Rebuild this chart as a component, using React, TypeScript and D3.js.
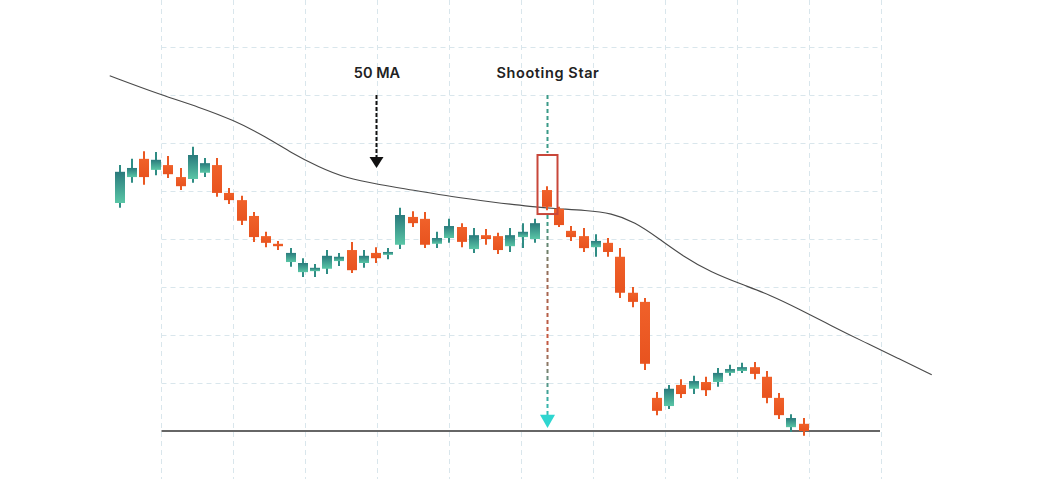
import React from "react";
import * as d3 from "d3";

// ---- data ----
const opens = [147.5,152.9,156.7,154.4,155.4,152.9,152.5,153.8,155.4,149.6,148.1,144.8,140.6,139.0,135.2,133.1,133.3,133.8,135.4,137.7,135.0,137.1,136.7,138.8,144.6,144.2,139.0,140.2,142.5,137.9,140.8,140.6,138.5,140.4,140.0,150.2,146.3,141.7,140.6,138.3,139.2,136.3,128.8,126.9,106.9,105.2,109.6,108.8,110.2,110.2,112.1,112.5,113.3,111.3,106.9,100.8,101.5];
const highs = [155.4,156.7,158.3,158.1,157.3,154.8,159.2,156.9,156.9,150.6,149.0,145.6,141.5,139.6,138.1,136.0,134.8,137.7,137.1,139.4,137.7,138.3,138.1,146.5,145.8,145.6,141.5,144.2,143.3,142.3,142.1,141.3,142.3,143.3,144.2,151.0,146.7,142.7,142.3,141.0,140.2,138.1,130.0,127.7,108.1,109.6,110.8,111.5,111.3,113.1,113.8,114.2,114.4,112.5,107.9,103.5,102.7];
const lows = [146.5,151.7,151.3,153.3,152.7,150.2,151.7,152.9,148.8,147.3,142.9,139.4,138.3,137.7,134.2,132.1,132.1,132.7,134.4,132.9,134.0,135.0,135.8,137.9,142.5,138.1,138.1,139.2,138.3,137.1,138.8,136.9,137.3,138.1,139.2,146.0,142.5,139.6,137.3,136.3,136.3,127.7,125.8,112.7,103.3,104.6,106.9,107.7,107.3,109.2,111.5,112.1,110.8,105.8,102.5,99.8,99.0];
const closes = [154.0,154.8,152.9,156.5,153.5,151.0,157.5,155.8,149.6,148.1,143.8,140.4,139.2,138.5,137.1,135.0,134.0,136.5,136.3,133.5,136.5,136.0,137.3,145.0,143.3,138.8,140.2,142.7,139.4,140.8,140.0,137.7,140.8,141.5,143.3,146.7,142.9,140.4,138.1,139.6,137.3,128.8,126.9,114.0,104.2,108.8,107.7,110.4,108.5,112.1,112.9,113.3,111.9,106.9,103.3,102.7,100.0];

// 50-period moving average (position in candle index units, value)
const maIndex = [-0.8,3.4,6.5,9.3,12,14.1,16.3,18.5,21.3,24,27.2,30.5,33.8,35.9,38.1,40.3,42.2,44.1,46.2,48.4,51.1,53.3,55.5,58.3,61,63.7,66.5];
const maValue = [174.0,170.0,167.5,164.8,161.3,157.9,155.0,152.7,151.3,150.2,148.8,147.7,146.7,146.3,146.0,145.4,143.5,140.2,136.3,133.1,130.4,128.3,125.6,121.9,118.5,115.2,111.7];

const gridPrices = [110,120,130,140,150,160,170,180];
const gridCols = d3.range(0, 11);
const supportLevel = 100;

const maLabel = "50 MA";
const maArrowIndex = 21;
const maArrowFrom = 170;
const maArrowTo = 154.8;
const starLabel = "Shooting Star";
const starIndex = 35;
const starBoxTop = 157.5;
const starBoxBottom = 145.2;
const labelPrice = 173.5;

export default function App() {
  const W = 1042, H = 479;
  const x = d3.scaleLinear().domain([0, 56]).range([119.5, 803.5]);
  const y = d3.scaleLinear().domain([100, 170]).range([431, 95]);
  const gx = d3.scaleLinear().domain([0, 10]).range([161.5, 881.5]);
  const bw = 10;

  const maLine = d3
    .line<number>()
    .x((_, i) => x(maIndex[i]))
    .y((d) => y(d))
    .curve(d3.curveBasis)(maValue) as string;

  const sx = Math.round(x(starIndex)) + 0.5;
  const ax = Math.round(x(maArrowIndex)) + 0.5;
  const font = "Inter, 'Noto Sans', sans-serif";

  return (
    <svg width={W} height={H} style={{ position: "absolute", left: 0, top: 0, background: "#fff" }}>
      <defs>
        <linearGradient id="bull" x1="0" y1="0" x2="0" y2="1">
          <stop offset="0" stopColor="#2a7a7c" />
          <stop offset="1" stopColor="#5ac6a6" />
        </linearGradient>
        <linearGradient id="bear" x1="0" y1="0" x2="0" y2="1">
          <stop offset="0" stopColor="#f0612a" />
          <stop offset="1" stopColor="#e8531f" />
        </linearGradient>
        <linearGradient id="drop" gradientUnits="userSpaceOnUse" x1="0" y1={y(starBoxBottom)} x2="0" y2={y(101)}>
          <stop offset="0" stopColor="#2fa08c" />
          <stop offset="0.3" stopColor="#9c6a55" />
          <stop offset="0.6" stopColor="#c8563e" />
          <stop offset="0.85" stopColor="#3aa59a" />
          <stop offset="1" stopColor="#2fd0cc" />
        </linearGradient>
      </defs>

      {/* grid */}
      <g stroke="#d9e6ec" strokeWidth={1} strokeDasharray="5,4">
        {gridCols.map((c) => (
          <line key={"v" + c} x1={gx(c)} x2={gx(c)} y1={0} y2={H} />
        ))}
        {gridPrices.map((p) => (
          <line key={"h" + p} x1={gx(0)} x2={gx(10)} y1={Math.round(y(p)) + 0.5} y2={Math.round(y(p)) + 0.5} />
        ))}
      </g>

      {/* support line */}
      <line x1={gx(0)} x2={gx(10) - 1.5} y1={y(supportLevel)} y2={y(supportLevel)} stroke="#333" strokeWidth={1.5} />

      {/* moving average */}
      <path d={maLine} fill="none" stroke="#4a4a4a" strokeWidth={1.1} />

      {/* shooting star dashed lines */}
      <line x1={sx} x2={sx} y1={y(maArrowFrom)} y2={y(starBoxTop) - 2} stroke="#3a9a88" strokeWidth={2} strokeDasharray="4,3" />
      <line x1={sx} x2={sx} y1={y(starBoxBottom) + 1} y2={y(101.5)} stroke="url(#drop)" strokeWidth={2} strokeDasharray="4,3" />
      <path
        d={`M${sx - 7.5},${y(103.4)} L${sx + 7.5},${y(103.4)} L${sx},${y(100.6)} Z`}
        fill="#2fd6d0"
      />

      {/* candles */}
      {opens.map((o, i) => {
        const c = closes[i];
        const bull = c >= o;
        const cx = Math.round(x(i));
        const top = y(Math.max(o, c));
        const bot = y(Math.min(o, c));
        const col = bull ? "#2f8c84" : "#ea5822";
        return (
          <g key={i}>
            <line x1={cx} x2={cx} y1={y(highs[i])} y2={y(lows[i])} stroke={col} strokeWidth={2} />
            <rect x={cx - bw / 2} y={top} width={bw} height={Math.max(2, bot - top)} fill={bull ? "url(#bull)" : "url(#bear)"} />
          </g>
        );
      })}

      {/* shooting star box */}
      <rect
        x={x(starIndex) - 9.5}
        y={y(starBoxTop)}
        width={20}
        height={y(starBoxBottom) - y(starBoxTop)}
        fill="none"
        stroke="#c8473a"
        strokeWidth={2}
      />

      {/* 50 MA arrow */}
      <line x1={ax} x2={ax} y1={y(maArrowFrom)} y2={y(maArrowTo) - 10} stroke="#111" strokeWidth={2} strokeDasharray="4,2" />
      <path
        d={`M${ax - 7},${y(maArrowTo) - 11} L${ax + 7},${y(maArrowTo) - 11} L${ax},${y(maArrowTo)} Z`}
        fill="#111"
      />

      {/* labels */}
      <text x={x(maArrowIndex) + 1} y={y(labelPrice)} textAnchor="middle" fontFamily={font} fontWeight={600} fontSize={14.5} fill="#222">
        {maLabel}
      </text>
      <text x={x(starIndex) + 1} y={y(labelPrice)} textAnchor="middle" fontFamily={font} fontWeight={600} fontSize={14.5} letterSpacing={0.6} fill="#222">
        {starLabel}
      </text>
    </svg>
  );
}
